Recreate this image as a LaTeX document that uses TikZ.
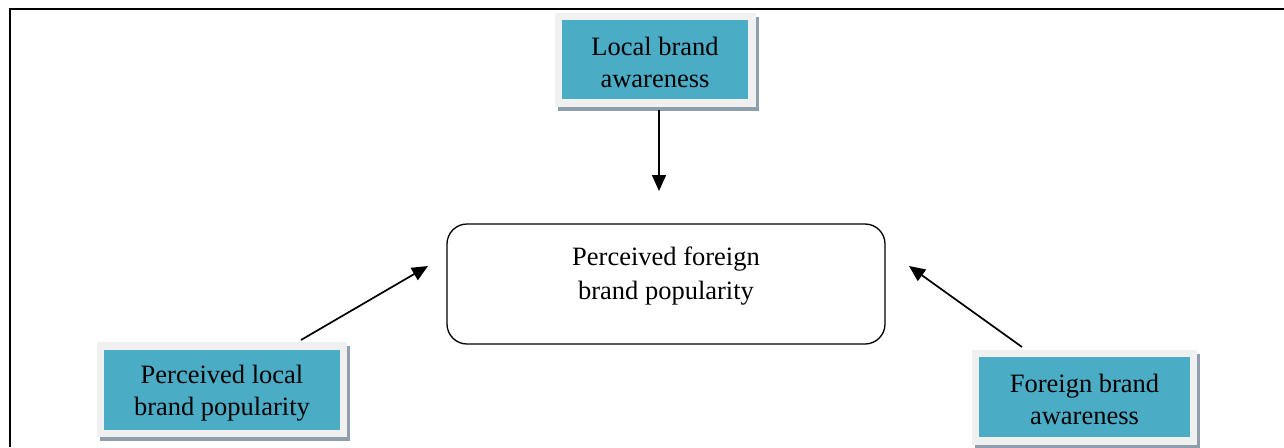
\documentclass[tikz,border=0pt]{standalone}
\usepackage{fontspec}
\setmainfont{Liberation Serif}
\usetikzlibrary{arrows.meta}
\definecolor{teal1}{HTML}{4BACC6}
\definecolor{outerg}{HTML}{F0F0F0}
\definecolor{shadowg}{HTML}{8E9EAC}
\tikzset{
  outerbox/.style={draw=none, fill=outerg, inner sep=0pt},
  shadowbox/.style={draw=none, fill=shadowg, inner sep=0pt},
  innerbox/.style={draw=none, fill=teal1, inner sep=0pt, minimum height=0pt, align=center},
  lbl/.style={inner sep=0pt, align=center, font=\fontsize{26.5}{32}\selectfont},
  conn/.style={line width=1.7pt, -{Triangle[length=16pt,width=14pt]}}
}
\begin{document}
\begin{tikzpicture}[x=1pt,y=-1pt]
\useasboundingbox (0,0) rectangle (1284,447);
\draw[line width=2.4pt] (10,447) -- (10,9) -- (1284,9);
% top box
\node[shadowbox, minimum width=201pt, minimum height=94pt] (ts) at (658.5,64) {};
\node[outerbox, minimum width=201pt, minimum height=94pt] (to) at (655.5,60) {};
\node[innerbox, minimum width=186pt, minimum height=79pt] (lba) at (655,59.5) {};
\node[lbl] (lbat) at (655,62) {Local brand\\awareness};
% left box
\node[shadowbox, minimum width=250pt, minimum height=95pt] (ls) at (225,393.5) {};
\node[outerbox, minimum width=250pt, minimum height=95pt] (lo) at (222,389.5) {};
\node[innerbox, minimum width=236pt, minimum height=80pt] (plp) at (222,390) {};
\node[lbl] (plpt) at (222,393) {Perceived local\\brand popularity};
% right box
\node[shadowbox, minimum width=225pt, minimum height=95pt] (rs) at (1087.5,401.5) {};
\node[outerbox, minimum width=225pt, minimum height=95pt] (ro) at (1084.5,397.5) {};
\node[innerbox, minimum width=211pt, minimum height=80pt] (fba) at (1084.5,397) {};
\node[lbl] (fbat) at (1084.5,399.5) {Foreign brand\\awareness};
% center box
\node[draw, line width=1.3pt, rounded corners=20pt, minimum width=438pt, minimum height=120pt] (pfp) at (666,284) {};
\node[lbl, font=\fontsize{26.5}{34}\selectfont] (pfpt) at (666,276) {Perceived foreign\\brand popularity};
% connectors
\coordinate (a1) at (659,110);
\coordinate (a2) at (659,191);
\coordinate (b1) at (301,340);
\coordinate (b2) at (428,266);
\coordinate (c1) at (1022,347);
\coordinate (c2) at (909,266);
\draw[conn] (a1) -- (a2);
\draw[conn] (b1) -- (b2);
\draw[conn] (c1) -- (c2);
\end{tikzpicture}
\end{document}
